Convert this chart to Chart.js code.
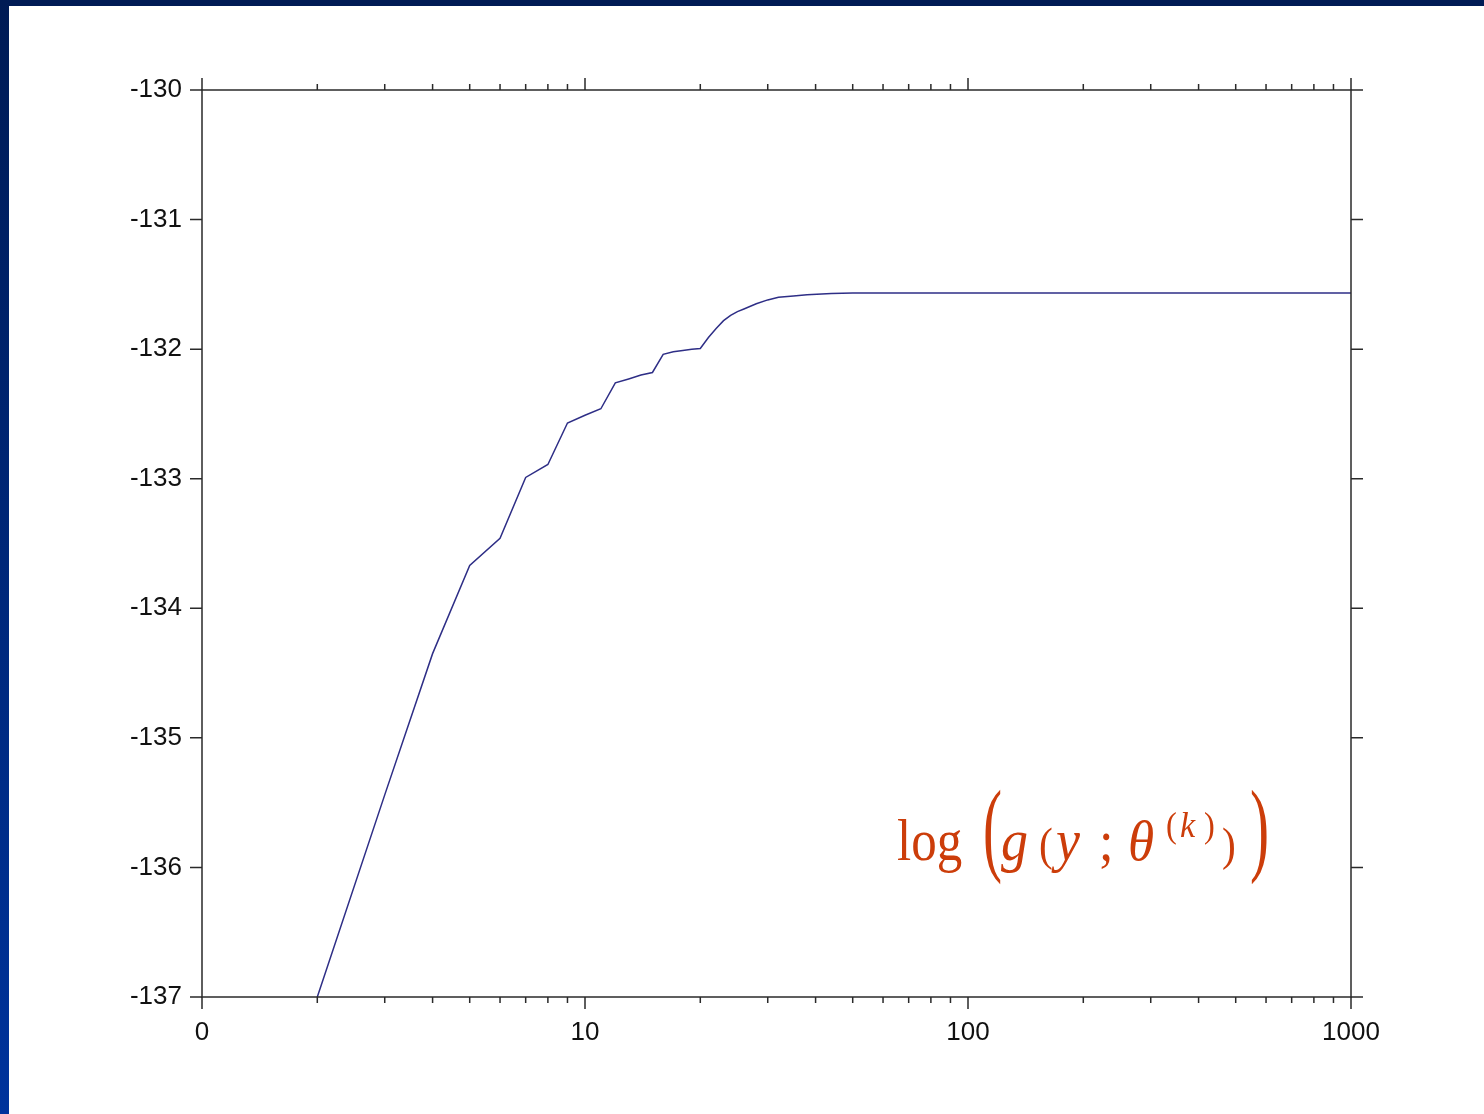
<!DOCTYPE html>
<html>
<head>
<meta charset="utf-8">
<script src="https://cdn.jsdelivr.net/npm/chart.js"></script>
<style>
  html,body{margin:0;padding:0;background:#fff;width:1484px;height:1114px;overflow:hidden}
  .band-top{position:absolute;left:0;top:0;width:1484px;height:6px;background:#001b55}
  .band-left{position:absolute;left:0;top:0;width:9px;height:1114px;background:linear-gradient(#001b55,#00339c)}
  #wrap{position:absolute;left:0;top:0;width:1484px;height:1114px}
</style>
</head>
<body>
<div class="band-top"></div>
<div class="band-left"></div>
<div id="wrap"><canvas id="c" width="1484" height="1114"></canvas></div>
<script>
/* =====  data  ===== */
const iterations = [2, 3, 4, 5, 6, 7, 8, 9, 10, 11, 12, 13, 14, 15, 16, 17, 18, 19, 20,
                    21, 22, 23, 24, 25, 26, 28, 30, 32, 35, 38, 44, 50, 100, 200, 500, 1000];
const logLik     = [-137.0, -135.44, -134.35, -133.67, -133.46, -132.99, -132.89, -132.57, -132.51, -132.46,
                    -132.26, -132.23, -132.20, -132.18, -132.04, -132.02, -132.01, -132.00, -131.995,
                    -131.91, -131.84, -131.78, -131.74, -131.71, -131.69, -131.65, -131.62, -131.60,
                    -131.59, -131.58, -131.57, -131.567, -131.567, -131.567, -131.567, -131.567];

const xTickValues = [1, 10, 100, 1000];
const xTickLabels = ['0', '10', '100', '1000'];
const yTickValues = [-137, -136, -135, -134, -133, -132, -131, -130];

const AXIS_COL = '#2a2a2a';
const LINE_COL = '#2e2e86';
const EQ_COL   = '#cc3d0a';

/* =====  axes frame + tick marks (all outward)  ===== */
const frame = {
  id: 'frame',
  afterDraw(chart){
    const {ctx, chartArea:a, scales:{x, y}} = chart;
    ctx.save();
    ctx.strokeStyle = AXIS_COL;
    ctx.lineWidth = 1.5;
    ctx.strokeRect(a.left, a.top, a.right - a.left, a.bottom - a.top);
    ctx.beginPath();
    for (let e = 0; e <= 3; e++) {
      for (let m = 1; m <= 9; m++) {
        const v = m * Math.pow(10, e);
        if (v > 1000) break;
        const px = x.getPixelForValue(v), len = m === 1 ? 12 : 6;
        ctx.moveTo(px, a.bottom); ctx.lineTo(px, a.bottom + len);
        ctx.moveTo(px, a.top);    ctx.lineTo(px, a.top - len);
      }
    }
    yTickValues.forEach(v => {
      const py = y.getPixelForValue(v);
      ctx.moveTo(a.left - 12, py);  ctx.lineTo(a.left, py);
      ctx.moveTo(a.right, py);      ctx.lineTo(a.right + 12, py);
    });
    ctx.stroke();
    ctx.restore();
  }
};

/* =====  the red formula label  ===== */
const formula = {
  id: 'formula',
  afterDraw(chart){
    const ctx = chart.ctx;
    const serif = '"Liberation Serif","Times New Roman",serif';
    const put = (t, x, y, font, sx) => {
      ctx.save();
      ctx.font = font + ' ' + serif;
      ctx.translate(x, y);
      ctx.scale(sx || 1, 1);
      ctx.fillText(t, 0, 0);
      ctx.restore();
    };
    ctx.save();
    ctx.fillStyle = EQ_COL;
    ctx.textBaseline = 'alphabetic';
    ctx.textAlign = 'left';
    const b = 860;
    put('log', 897, b, '60px', 0.85);
    put('(', 983, 862, '104px', 0.55);
    put('g', 1001, b, 'italic 60px', 0.9);
    put('(', 1039, b, '46px', 0.9);
    put('y', 1056, b, 'italic 60px', 0.9);
    put(';', 1099, b, '58px', 0.9);
    put('\u03B8', 1128, b, 'italic 56px', 0.95);
    put('(', 1166, 837, '36px', 0.9);
    put('k', 1180, 837, 'italic 36px', 0.95);
    put(')', 1204, 837, '36px', 0.9);
    put(')', 1222, b, '46px', 0.9);
    put(')', 1250, 862, '104px', 0.55);
    ctx.restore();
  }
};

const labelFont = {family: '"Liberation Sans", Arial, sans-serif', size: 26};

new Chart(document.getElementById('c'), {
  type: 'line',
  data: {
    datasets: [{
      data: iterations.map((it, i) => ({x: it, y: logLik[i]})),
      borderColor: LINE_COL,
      borderWidth: 1.5,
      pointRadius: 0,
      tension: 0,
      fill: false
    }]
  },
  options: {
    responsive: false,
    animation: false,
    layout: {padding: {left: 0, top: 90, right: 133, bottom: 0}},
    plugins: {legend: {display: false}, tooltip: {enabled: false}},
    scales: {
      x: {
        type: 'logarithmic', min: 1, max: 1000,
        grid: {display: false, drawTicks: false},
        border: {display: false},
        afterBuildTicks: s => { s.ticks = xTickValues.map(v => ({value: v, major: true})); },
        afterFit: s => { s.height = 117; },
        ticks: {
          autoSkip: false, maxRotation: 0, padding: 20,
          color: '#111', font: labelFont,
          callback: v => xTickLabels[xTickValues.indexOf(v)]
        }
      },
      y: {
        type: 'linear', min: -137, max: -130,
        grid: {display: false, drawTicks: false},
        border: {display: false},
        afterBuildTicks: s => { s.ticks = yTickValues.map(v => ({value: v})); },
        afterFit: s => { s.width = 202; },
        ticks: {padding: 20, color: '#111', font: labelFont, callback: v => String(v)}
      }
    }
  },
  plugins: [frame, formula]
});
</script>
</body>
</html>
